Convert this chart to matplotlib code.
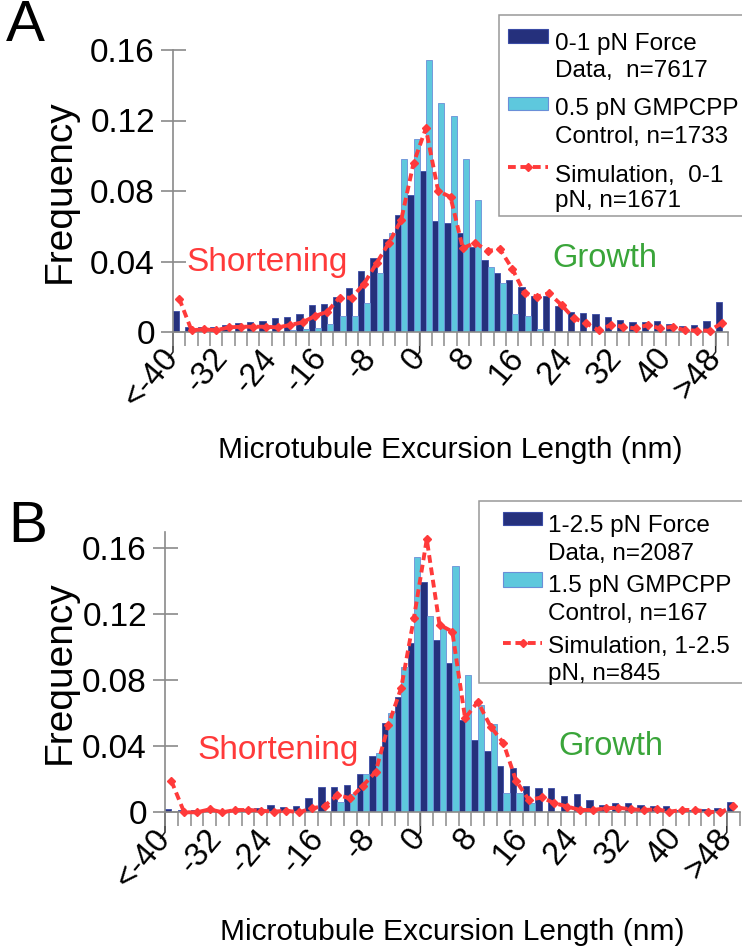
import numpy as np
import matplotlib
matplotlib.use("Agg")
import matplotlib.pyplot as plt
from matplotlib.patches import Rectangle
from matplotlib.lines import Line2D

plt.rcParams['font.family'] = ['Liberation Sans', 'DejaVu Sans']

# ---------------------------------------------------------------- data
# 2-nm excursion bins, left edges from -40 (<-40) to 48 (>48)
bin_left = np.arange(-40, 49, 2)

xtick_pos = [-40, -32, -24, -16, -8, 0, 8, 16, 24, 32, 40, 48]
xtick_labels = ['<-40', '-32', '-24', '-16', '-8', '0', '8', '16', '24', '32', '40', '>48']
ytick_vals = [0, 0.04, 0.08, 0.12, 0.16]
ytick_labels = ['0', '0.04', '0.08', '0.12', '0.16']

# Panel A: 0-1 pN
force_a = [0.012, 0.003, 0.0027, 0.003, 0.004, 0.005, 0.0055, 0.006, 0.008, 0.0087,
           0.0104, 0.0155, 0.016, 0.020, 0.025, 0.0345, 0.042, 0.0526, 0.0664, 0.078,
           0.0915, 0.063, 0.0617, 0.0563, 0.048, 0.0408, 0.0333, 0.0295, 0.0253, 0.0204,
           0.0204, 0.015, 0.0115, 0.011, 0.010, 0.0087, 0.0068, 0.0055, 0.0059, 0.0062,
           0.0045, 0.0036, 0.0042, 0.0062, 0.0172]
control_a = [0, 0, 0, 0, 0, 0, 0, 0, 0, 0.001,
             0.0017, 0.002, 0.0045, 0.009, 0.009, 0.0166, 0.0333, 0.056, 0.098, 0.1095,
             0.1543, 0.130, 0.1225, 0.098, 0.0749, 0.037, 0.028, 0.0102, 0.009, 0.0015,
             0, 0, 0, 0, 0, 0, 0, 0, 0, 0,
             0, 0, 0, 0, 0]
sim_a = [0.019, 0.001, 0.0015, 0.001, 0.0026, 0.003, 0.003, 0.003, 0.0026, 0.004,
         0.0055, 0.009, 0.0115, 0.0195, 0.0195, 0.0275, 0.039, 0.0505, 0.0635, 0.0957,
         0.1155, 0.080, 0.0766, 0.0475, 0.0507, 0.046, 0.047, 0.036, 0.022, 0.020,
         0.022, 0.0153, 0.0078, 0.005, 0.001, 0.004, 0.003, 0.002, 0.004, 0.002,
         0.003, 0.001, 0.0008, 0.0008, 0.005]

# Panel B: 1-2.5 pN
force_b = [0.002, 0.0014, 0.0014, 0.0012, 0.0016, 0.0014, 0.0018, 0.0024, 0.0044, 0.0034,
           0.0038, 0.0089, 0.0156, 0.0152, 0.0166, 0.0232, 0.034, 0.054, 0.070, 0.1024,
           0.1396, 0.1045, 0.0907, 0.056, 0.0438, 0.0372, 0.0283, 0.027, 0.016, 0.015,
           0.0145, 0.0097, 0.0108, 0.0075, 0.0045, 0.0057, 0.0055, 0.0045, 0.0039, 0.0041,
           0.0016, 0.0016, 0.002, 0.0024, 0.0065]
control_b = [0, 0, 0, 0, 0, 0, 0, 0, 0, 0,
             0, 0, 0, 0.006, 0.011, 0.0234, 0.0358, 0.060, 0.088, 0.155,
             0.119, 0.1125, 0.1495, 0.0832, 0.065, 0.0535, 0.012, 0.012, 0.0055, 0,
             0, 0, 0, 0, 0, 0, 0, 0, 0, 0,
             0, 0, 0, 0, 0]
sim_b = [0.019, 0.0, 0.0, 0.0018, 0.0, 0.0014, 0.0014, 0.001, 0.0004, 0.001,
         0.0, 0.0024, 0.0038, 0.0105, 0.0085, 0.0161, 0.0246, 0.053, 0.0755, 0.118,
         0.1655, 0.1137, 0.1095, 0.057, 0.067, 0.052, 0.042, 0.019, 0.0075, 0.009,
         0.0055, 0.0035, 0.0014, 0.0014, 0.0024, 0.0028, 0.0018, 0.0014, 0.0018, 0.0004,
         0.0014, 0.0014, 0.0004, 0.0, 0.0036]

legend_a = ['0-1 pN Force', 'Data,  n=7617', '0.5 pN GMPCPP', 'Control, n=1733',
            'Simulation,  0-1', 'pN, n=1671']
legend_b = ['1-2.5 pN Force', 'Data, n=2087', '1.5 pN GMPCPP', 'Control, n=167',
            'Simulation, 1-2.5', 'pN, n=845']

# ---------------------------------------------------------------- style
DARK = '#25307c'
DARK_EDGE = '#3b4ca6'
LIGHT = '#5ec8dd'
LIGHT_EDGE = '#6a8fd8'
RED = '#ff3a3a'
GREEN = '#3aa53a'
GRAY = '#8a8a8a'
SIM_DASH = (2.0, 1.2)

W, H = 742, 950
fig = plt.figure(figsize=(W / 100, H / 100), dpi=100)


def px_rect(l, t, r, b):
    return [l / W, 1 - b / H, (r - l) / W, (b - t) / H]


def fx(x):
    return x / W


def fy(y):
    return 1 - y / H


def draw_panel(box, ytop, force, control, sim, letter, letter_xy,
               short_xy, grow_xy, xlabel_y):
    ax = fig.add_axes(px_rect(*box))
    ax.bar(bin_left, force, width=1, align='edge', color=DARK,
           edgecolor=DARK_EDGE, linewidth=0.6, zorder=2)
    ax.bar(bin_left + 1, control, width=1, align='edge', color=LIGHT,
           edgecolor=LIGHT_EDGE, linewidth=0.6, zorder=2)
    ax.plot(bin_left + 1, sim, color=RED, lw=2.8, dashes=SIM_DASH,
            marker='D', ms=4.5, mec=RED, mfc=RED, zorder=3, clip_on=False)

    ax.set_xlim(-40, 50)
    ax.set_ylim(0, ytop)
    for s in ('top', 'right'):
        ax.spines[s].set_visible(False)
    for s in ('left', 'bottom'):
        ax.spines[s].set_color(GRAY)
        ax.spines[s].set_linewidth(1.2)

    ax.set_yticks(ytick_vals, ytick_labels)
    ax.tick_params(axis='y', direction='inout', length=18, width=1.2,
                   color=GRAY, labelsize=24, pad=4)

    ax.xaxis.remove_overlapping_locs = False
    ax.set_xticks(np.arange(-40, 51, 2), minor=True)
    ax.set_xticks(xtick_pos, xtick_labels)
    ax.tick_params(axis='x', which='minor', direction='out', length=10,
                   width=1.1, color=GRAY)
    ax.tick_params(axis='x', which='major', length=0, pad=15, labelsize=23.5)
    plt.setp(ax.get_xticklabels(), rotation=50, ha='right', va='center',
             rotation_mode='anchor')

    # leader strokes under the end and zero labels
    ax_h = box[3] - box[1]
    per_px = ytop / ax_h
    for xp in (-40, 0, 48):
        ax.plot([xp, xp, xp - 0.7], [0, -20 * per_px, -26 * per_px],
                color='#222222', lw=1.1, clip_on=False, zorder=1)

    ax.set_ylabel('Frequency', fontsize=28)
    ax.yaxis.set_label_coords((60 - box[0]) / (box[2] - box[0]), 0.5)
    ax.yaxis.label.set_va('center')
    ax.set_xlabel('Microtubule Excursion Length (nm)', fontsize=21.5)
    ax.xaxis.set_label_coords(0.5, (box[3] - xlabel_y) / ax_h)
    ax.xaxis.label.set_va('center')

    ax.text(*short_xy, 'Shortening', color=RED, fontsize=24,
            ha='left', va='center', transform=ax.transAxes)
    ax.text(*grow_xy, 'Growth', color=GREEN, fontsize=23.5,
            ha='left', va='center', transform=ax.transAxes)
    fig.text(fx(letter_xy[0]), fy(letter_xy[1]), letter, fontsize=42,
             ha='left', va='center')
    return ax


def draw_legend(frame, patch_x, dark_y, light_y, sim_y, text_x, baselines, labels):
    l, t, r, b = frame
    fig.add_artist(Rectangle((fx(l), fy(b)), (r - l) / W, (b - t) / H,
                             transform=fig.transFigure, facecolor='white',
                             edgecolor='#999999', linewidth=1.1, zorder=5))
    x0, x1 = patch_x
    for (y0, y1), fc, ec in ((dark_y, DARK, DARK_EDGE), (light_y, LIGHT, LIGHT_EDGE)):
        fig.add_artist(Rectangle((fx(x0), fy(y1)), (x1 - x0) / W, (y1 - y0) / H,
                                 transform=fig.transFigure, facecolor=fc,
                                 edgecolor=ec, linewidth=0.8, zorder=6))
    fig.add_artist(Line2D([fx(x0), fx(x1)], [fy(sim_y), fy(sim_y)],
                          transform=fig.transFigure, color=RED, lw=2.8,
                          dashes=SIM_DASH, zorder=6))
    fig.add_artist(Line2D([fx((x0 + x1) / 2)], [fy(sim_y)], transform=fig.transFigure,
                          marker='D', ms=4.5, color=RED, lw=0, zorder=6))
    for yb, txt in zip(baselines, labels):
        fig.text(fx(text_x), fy(yb), txt, fontsize=17.5, ha='left',
                 va='baseline', zorder=7)


ax_a = draw_panel((173, 50, 728, 332), 0.16, force_a, control_a, sim_a,
                  'A', (6, 26), (0.025, 0.248), (0.683, 0.259), 450)
ax_b = draw_panel((165, 531.8, 739.6, 812.3), 0.17, force_b, control_b, sim_b,
                  'B', (8, 527), (0.057, 0.222), (0.684, 0.236), 932)

draw_legend((499, 15, 746, 216), (508, 548), (29, 43), (97, 110), 167,
            555, [50, 77, 115, 143, 182, 207], legend_a)
draw_legend((479, 501, 746, 683), (503, 542), (512, 525), (572, 587), 643,
            548, [532, 560, 592, 620, 653, 680], legend_b)

fig.savefig('out.png', dpi=100)
